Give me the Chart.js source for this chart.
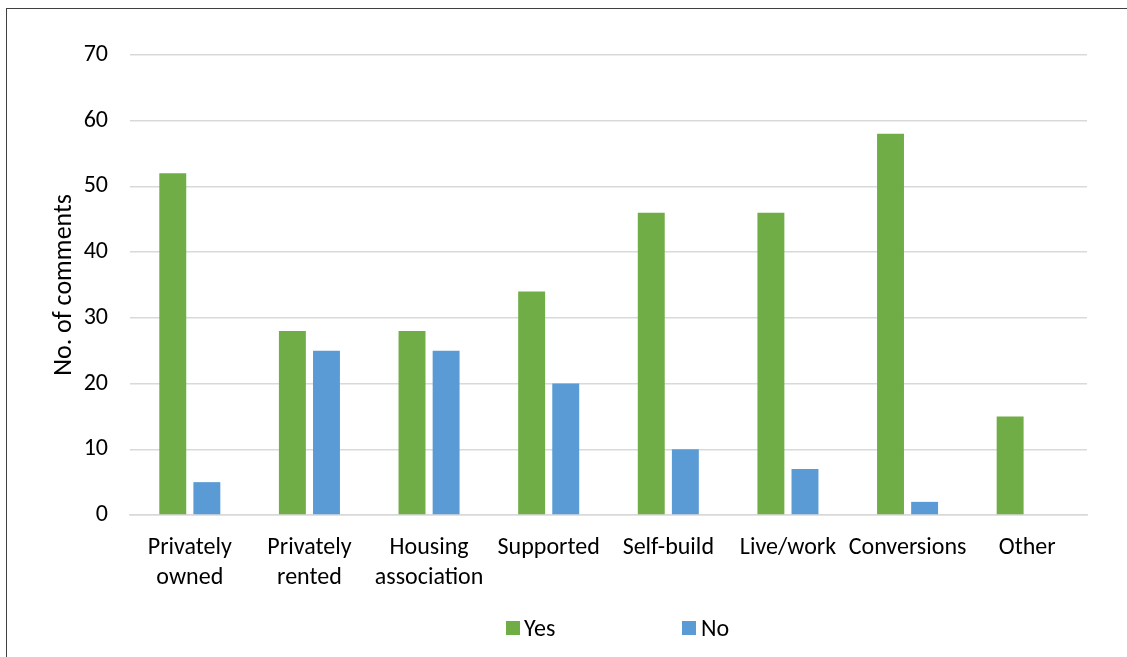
<!DOCTYPE html>
<html>
<head>
<meta charset="utf-8">
<script src="https://cdn.jsdelivr.net/npm/chart.js@4"></script>
<style>
  html, body { margin: 0; padding: 0; background: #fff; overflow: hidden; }
  .frame {
    position: absolute; left: 6px; top: 8px; width: 1200px; height: 700px;
    border-left: 1px solid #404040; border-top: 1px solid #404040;
  }
  .wrap { position: absolute; left: 0; top: 0; width: 1127px; height: 657px; }
  .legend { position: absolute; top: 616px; left: 0; font-family: Carlito, Calibri, Lato, sans-serif; font-size: 24px; color: #000; }
  .legend span { position: absolute; white-space: nowrap; line-height: 24px; }
  .legend i { position: absolute; width: 14px; height: 14px; top: 5px; }
</style>
</head>
<body>
<div class="frame"></div>
<div class="wrap"><canvas id="housingChart" width="1127" height="657"></canvas></div>
<div class="legend">
  <i style="left:506px;background:#70ad47"></i><span style="left:524px">Yes</span>
  <i style="left:682px;background:#5b9bd5"></i><span style="left:701px">No</span>
</div>
<script>
// Housing types and comment counts
const categories = [
  ['Privately', 'owned'], ['Privately', 'rented'], ['Housing', 'association'],
  'Supported', 'Self-build', 'Live/work', 'Conversions', 'Other'
];
const yesCounts = [52, 28, 28, 34, 46, 46, 58, 15];
const noCounts = [5, 25, 25, 20, 10, 7, 2, 0];
const yTicks = [0, 10, 20, 30, 40, 50, 60, 70];

const fontFamily = 'Carlito, Calibri, Lato, sans-serif';
Chart.defaults.font.family = fontFamily;
Chart.defaults.color = '#000';

const ctx = document.getElementById('housingChart').getContext('2d');
new Chart(ctx, {
  type: 'bar',
  data: {
    labels: categories,
    datasets: [
      { label: 'Yes', data: yesCounts, backgroundColor: '#70ad47', barPercentage: 0.79, categoryPercentage: 0.57 },
      { label: 'No', data: noCounts, backgroundColor: '#5b9bd5', barPercentage: 0.79, categoryPercentage: 0.57 }
    ]
  },
  options: {
    responsive: false,
    animation: false,
    layout: { padding: { left: 0, top: 55, right: 40, bottom: 0 } },
    plugins: {
      legend: { display: false },
      tooltip: { enabled: false }
    },
    scales: {
      x: {
        grid: { display: false, drawTicks: false },
        border: { display: true, color: '#d9d9d9', width: 1.5 },
        ticks: { font: { size: 24, lineHeight: 1.25 }, padding: 18, maxRotation: 0, autoSkip: false },
        afterFit: s => { s.height = 142; }
      },
      y: {
        min: 0, max: 70,
        afterBuildTicks: s => { s.ticks = yTicks.map(v => ({ value: v })); },
        grid: { color: '#d9d9d9', lineWidth: 1.5, drawTicks: false },
        border: { display: false },
        ticks: { font: { size: 24 }, padding: 22 },
        title: { display: true, text: 'No. of comments', font: { size: 26, lineHeight: 1.2 }, padding: { top: 49, bottom: 0 } },
        afterFit: s => { s.width = 130; }
      }
    }
  }
});
</script>
</body>
</html>
